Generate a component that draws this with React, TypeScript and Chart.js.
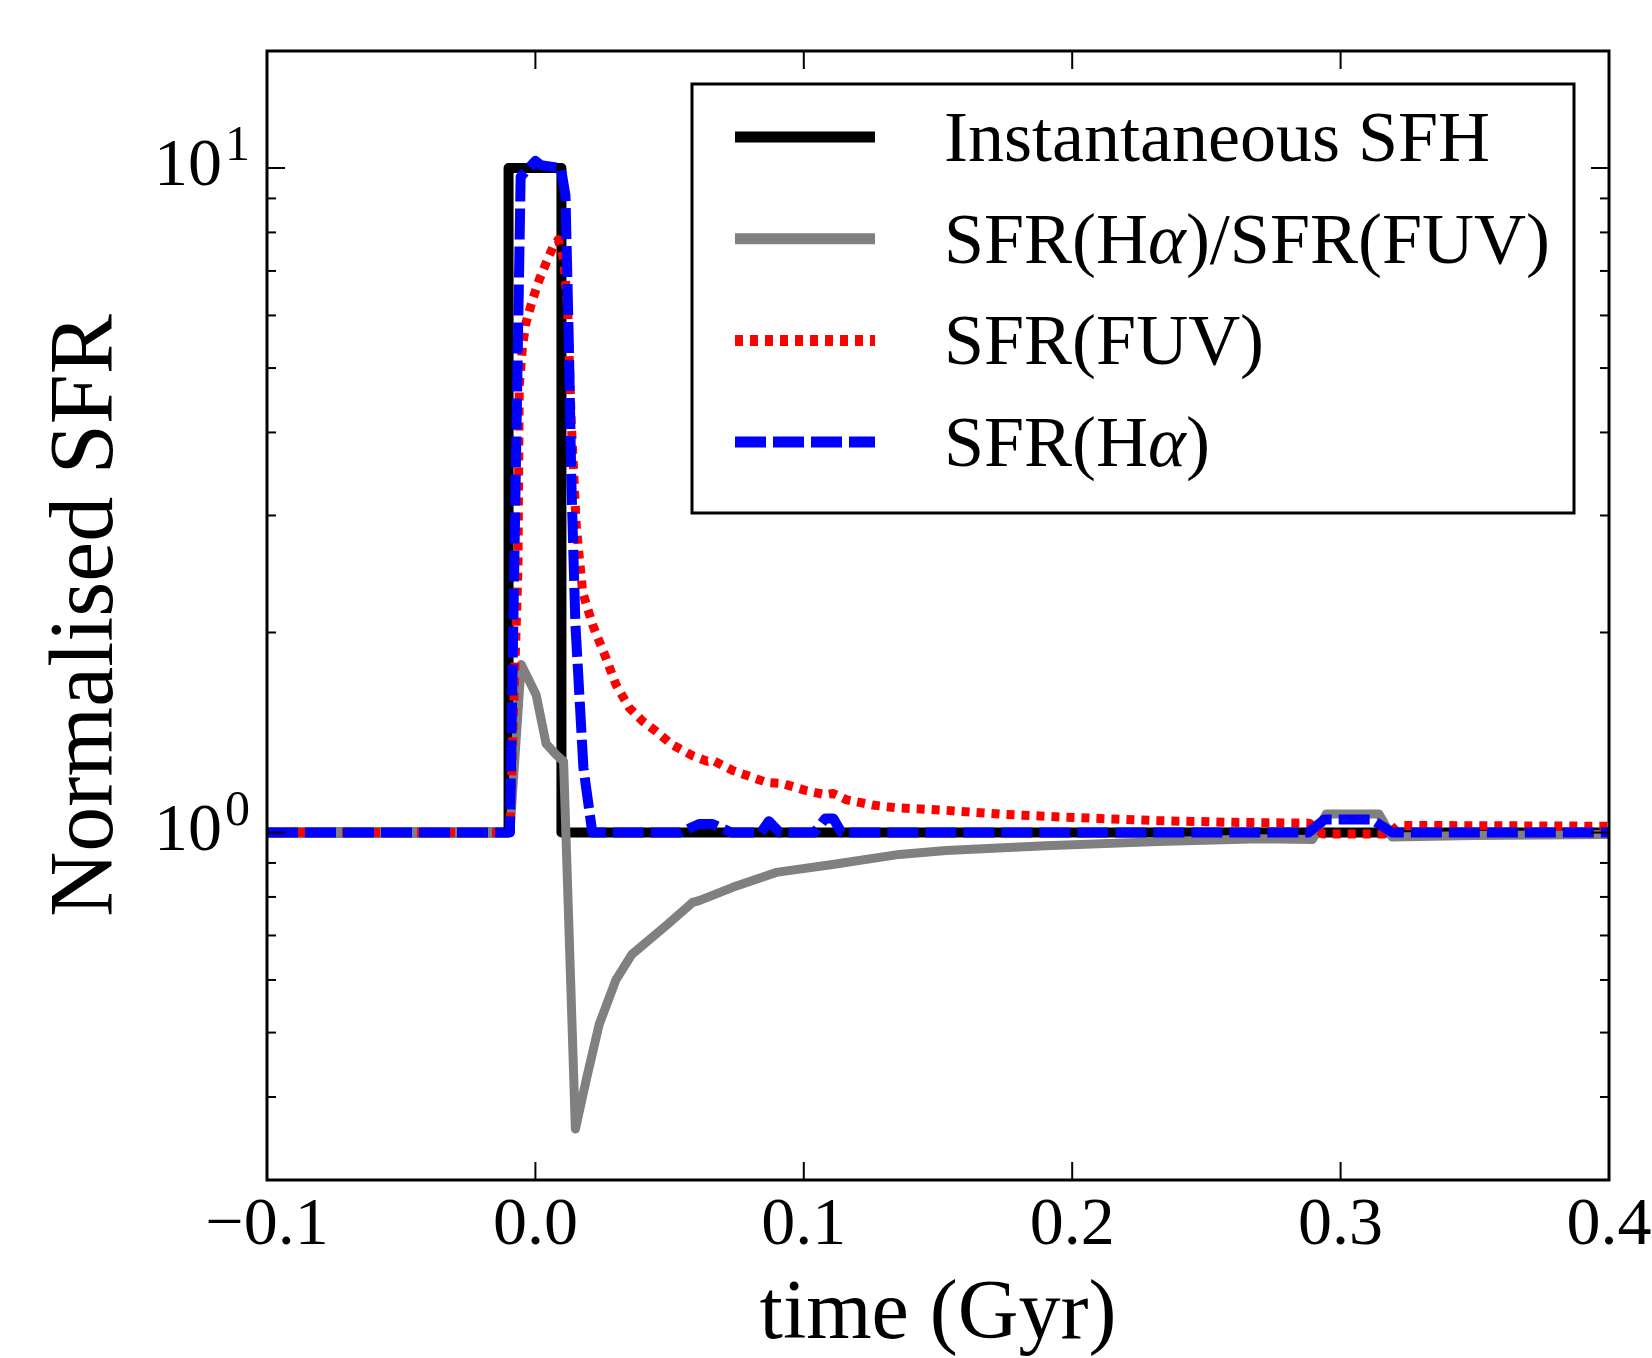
import React, { useEffect, useRef } from 'react';
import { Chart, registerables } from 'chart.js';

Chart.register(...registerables);

const FONT = "'Liberation Serif', 'Times New Roman', serif";

// ---------- axis ticks ----------
const xTicks = [-0.1, 0.0, 0.1, 0.2, 0.3, 0.4];
const yMajorTicks = [1, 10];
const yMinorTicks = [0.4, 0.5, 0.6, 0.7, 0.8, 0.9, 2, 3, 4, 5, 6, 7, 8, 9];
const yTickBase = ['10', '10'];
const yTickExp = ['0', '1'];

// ---------- series ----------
const sfhTime = [-0.1, -0.01, -0.01, 0.0097, 0.0097, 0.4];
const sfhValue = [1, 1, 10, 10, 1, 1];

const ratioTime = [-0.1, -0.0095, -0.0053, 0.0003, 0.004, 0.0077, 0.0105, 0.0149, 0.0189, 0.0238, 0.03, 0.036, 0.0488, 0.0586, 0.061, 0.0735, 0.0897, 0.1107, 0.1356, 0.153, 0.19, 0.232, 0.27, 0.2895, 0.2946, 0.3143, 0.3192, 0.35, 0.4];
const ratioValue = [1, 1, 1.79, 1.61, 1.36, 1.31, 1.28, 0.358, 0.424, 0.515, 0.6, 0.656, 0.725, 0.785, 0.79, 0.827, 0.871, 0.895, 0.927, 0.94, 0.955, 0.969, 0.979, 0.976, 1.066, 1.066, 0.985, 0.99, 0.993];

const fuvTime = [-0.1, -0.0095, -0.0065, -0.006, -0.0048, -0.0035, -0.001, 0.0015, 0.004, 0.0065, 0.0085, 0.0105, 0.012, 0.0133, 0.0152, 0.0176, 0.0214, 0.0263, 0.03, 0.035, 0.04, 0.045, 0.051, 0.0586, 0.064, 0.066, 0.0735, 0.081, 0.086, 0.092, 0.101, 0.108, 0.111, 0.116, 0.1256, 0.134, 0.153, 0.175, 0.192, 0.21, 0.232, 0.26, 0.2883, 0.2935, 0.318, 0.3215, 0.35, 0.4];
const fuvValue = [1, 1, 2.5, 4.7, 5.4, 5.85, 6.35, 6.8, 7.2, 7.6, 7.8, 7.3, 6.2, 4.2, 2.9, 2.3, 2.05, 1.83, 1.67, 1.54, 1.47, 1.42, 1.355, 1.305, 1.28, 1.285, 1.24, 1.21, 1.19, 1.185, 1.156, 1.14, 1.145, 1.12, 1.1, 1.09, 1.08, 1.065, 1.057, 1.05, 1.042, 1.036, 1.033, 0.995, 0.995, 1.025, 1.024, 1.022];

const haTime = [-0.1, -0.0095, -0.0055, 0.0, 0.002, 0.0095, 0.0112, 0.0124, 0.0134, 0.0149, 0.0179, 0.0212, 0.054, 0.061, 0.066, 0.073, 0.084, 0.087, 0.091, 0.104, 0.108, 0.111, 0.114, 0.288, 0.2939, 0.3117, 0.3192, 0.4];
const haValue = [1, 1, 9.7, 10.25, 10.1, 10.0, 9.1, 5.6, 3.37, 2.06, 1.25, 1.0, 1.0, 1.03, 1.03, 1.0, 1.0, 1.04, 1.0, 1.0, 1.05, 1.05, 1.0, 1.0, 1.046, 1.046, 1.0, 1.0];

const seriesLabels = ['Instantaneous SFH', 'SFR(H\u03b1)/SFR(FUV)', 'SFR(FUV)', 'SFR(H\u03b1)'];

const toPoints = (t: number[], v: number[]) => t.map((x, i) => ({ x, y: v[i] }));

const fmtX = (v: number) => {
  const s = Math.abs(v) < 1e-9 ? '0.0' : v.toFixed(1);
  return s.replace('-', '\u2212');
};

function drawRich(ctx: CanvasRenderingContext2D, text: string, x: number, y: number, size: number) {
  const parts = text.split(/(\u03b1)/);
  let cx = x;
  for (const p of parts) {
    if (!p) continue;
    ctx.font = (p === '\u03b1' ? 'italic ' : '') + `${size}px ${FONT}`;
    ctx.fillText(p, cx, y);
    cx += ctx.measureText(p).width;
  }
}

const framePlugin = {
  id: 'frameTicks',
  afterDatasetsDraw(chart: any) {
    const { ctx, chartArea: a, scales } = chart;
    const seg = (x1: number, y1: number, x2: number, y2: number) => {
      ctx.beginPath();
      ctx.moveTo(x1, y1);
      ctx.lineTo(x2, y2);
      ctx.stroke();
    };
    ctx.save();
    ctx.strokeStyle = '#000';
    ctx.lineWidth = 2;
    const MAJ = 18;
    const MIN = 9;
    for (const v of xTicks) {
      const px = scales.x.getPixelForValue(v);
      seg(px, a.bottom, px, a.bottom - MAJ);
      seg(px, a.top, px, a.top + MAJ);
    }
    for (const v of yMajorTicks) {
      const py = scales.y.getPixelForValue(v);
      seg(a.left, py, a.left + MAJ, py);
      seg(a.right, py, a.right - MAJ, py);
    }
    for (const v of yMinorTicks) {
      const py = scales.y.getPixelForValue(v);
      seg(a.left, py, a.left + MIN, py);
      seg(a.right, py, a.right - MIN, py);
    }
    ctx.lineWidth = 3;
    ctx.strokeRect(a.left, a.top, a.right - a.left, a.bottom - a.top);

    // y tick labels with superscripts
    ctx.fillStyle = '#000';
    ctx.textBaseline = 'alphabetic';
    ctx.textAlign = 'right';
    yMajorTicks.forEach((v, i) => {
      const py = scales.y.getPixelForValue(v);
      const supRight = a.left - 17;
      ctx.font = `50px ${FONT}`;
      ctx.fillText(yTickExp[i], supRight, py - 8);
      const supW = ctx.measureText(yTickExp[i]).width;
      ctx.font = `68px ${FONT}`;
      ctx.fillText(yTickBase[i], supRight - supW - 3, py + 17);
    });
    ctx.restore();
  },
  afterDraw(chart: any) {
    const { ctx, chartArea: a } = chart;
    const boxRight = a.right - 35;
    const boxLeft = boxRight - 882;
    const boxTop = a.top + 33;
    const boxH = 429;
    ctx.save();
    ctx.fillStyle = '#fff';
    ctx.fillRect(boxLeft, boxTop, boxRight - boxLeft, boxH);
    ctx.strokeStyle = '#000';
    ctx.lineWidth = 3;
    ctx.strokeRect(boxLeft, boxTop, boxRight - boxLeft, boxH);
    chart.data.datasets.forEach((ds: any, i: number) => {
      const cy = boxTop + 53 + i * 101.7;
      ctx.beginPath();
      ctx.strokeStyle = ds.borderColor;
      ctx.lineWidth = 11;
      ctx.lineCap = 'butt';
      ctx.setLineDash(ds.borderDash || []);
      ctx.moveTo(boxLeft + 43, cy);
      ctx.lineTo(boxLeft + 183, cy);
      ctx.stroke();
      ctx.setLineDash([]);
      ctx.fillStyle = '#000';
      ctx.textAlign = 'left';
      ctx.textBaseline = 'alphabetic';
      drawRich(ctx, ds.label, boxLeft + 252, cy + 24, 72);
    });
    ctx.restore();
  },
};

export default function App() {
  const canvasRef = useRef<HTMLCanvasElement | null>(null);

  useEffect(() => {
    document.body.style.margin = '0';
    document.body.style.overflow = 'hidden';
    const canvas = canvasRef.current;
    if (!canvas) return;
    const chart = new Chart(canvas, {
      type: 'line',
      data: {
        datasets: [
          {
            label: seriesLabels[0],
            data: toPoints(sfhTime, sfhValue),
            borderColor: '#000000',
            borderWidth: 10,
            pointRadius: 0,
            borderJoinStyle: 'round',
            order: 4,
          },
          {
            label: seriesLabels[1],
            data: toPoints(ratioTime, ratioValue),
            borderColor: '#808080',
            borderWidth: 9,
            pointRadius: 0,
            borderJoinStyle: 'round',
            order: 3,
          },
          {
            label: seriesLabels[2],
            data: toPoints(fuvTime, fuvValue),
            borderColor: '#ff0000',
            borderWidth: 9,
            borderDash: [8, 7],
            pointRadius: 0,
            borderJoinStyle: 'round',
            order: 2,
          },
          {
            label: seriesLabels[3],
            data: toPoints(haTime, haValue),
            borderColor: '#0000ff',
            borderWidth: 10,
            borderDash: [31, 7],
            pointRadius: 0,
            borderJoinStyle: 'round',
            order: 1,
          },
        ],
      },
      options: {
        animation: false,
        responsive: false,
        devicePixelRatio: 1,
        layout: { padding: { top: 51, right: 43, left: 0, bottom: 0 } },
        plugins: { legend: { display: false }, tooltip: { enabled: false } },
        scales: {
          x: {
            type: 'linear',
            min: -0.1,
            max: 0.4,
            afterBuildTicks: (s: any) => {
              s.ticks = xTicks.map((v) => ({ value: v }));
            },
            ticks: {
              callback: (v: any) => fmtX(Number(v)),
              font: { family: FONT, size: 68, lineHeight: 1 },
              color: '#000',
              padding: 12,
              maxRotation: 0,
              autoSkip: false,
            },
            grid: { display: false, drawTicks: false },
            border: { display: false },
            title: {
              display: true,
              text: 'time (Gyr)',
              font: { family: FONT, size: 84, lineHeight: 1 },
              color: '#000',
              padding: { top: 0, bottom: 0 },
            },
            afterFit: (s: any) => {
              s.height = 178;
              s.paddingLeft = 0;
              s.paddingRight = 0;
            },
          },
          y: {
            type: 'logarithmic',
            min: 0.303,
            max: 15,
            ticks: { display: false },
            grid: { display: false, drawTicks: false },
            border: { display: false },
            title: {
              display: true,
              text: 'Normalised SFR',
              font: { family: FONT, size: 90, lineHeight: 1 },
              color: '#000',
              padding: { top: 43, bottom: 0 },
            },
            afterFit: (s: any) => {
              s.width = 267;
              s.paddingTop = 0;
              s.paddingBottom = 0;
            },
          },
        },
      } as any,
      plugins: [framePlugin],
    });
    return () => chart.destroy();
  }, []);

  return (
    <div style={{ width: 1652, height: 1358, background: '#fff' }}>
      <canvas ref={canvasRef} width={1652} height={1358} style={{ display: 'block' }} />
    </div>
  );
}
